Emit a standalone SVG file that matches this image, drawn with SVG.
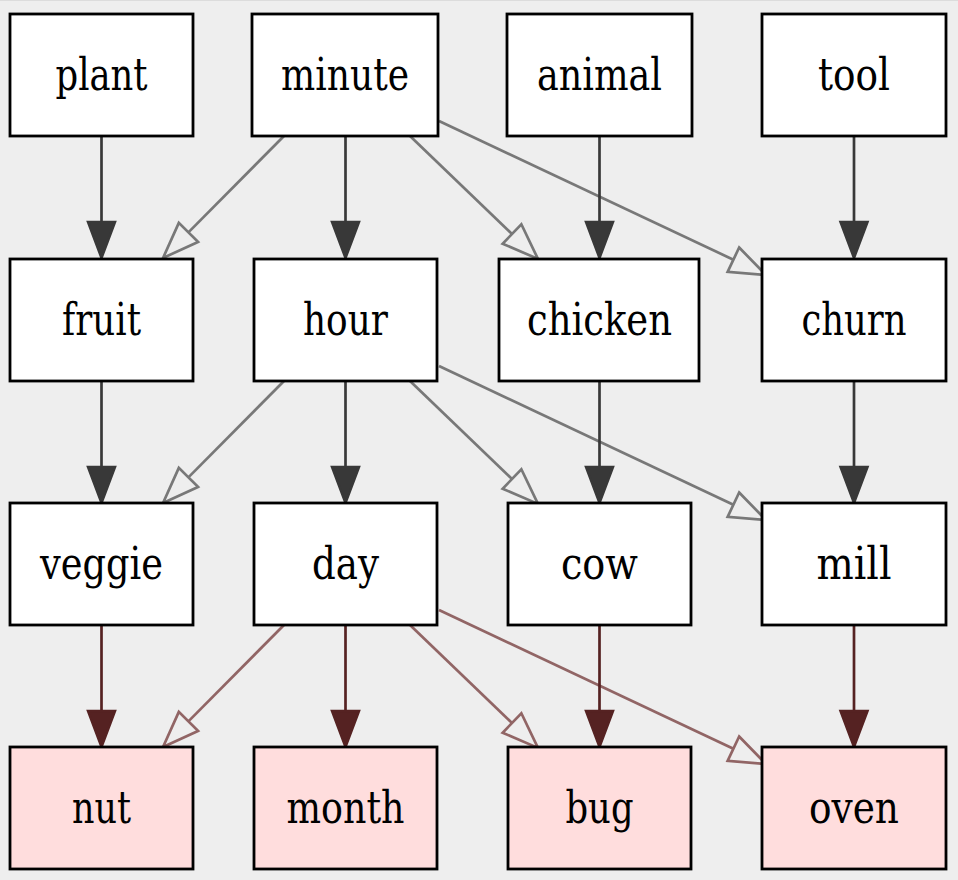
<svg xmlns="http://www.w3.org/2000/svg" width="958" height="880" viewBox="0 0 958 880">
<style>
.box{fill:#ffffff;stroke:#000000;stroke-width:2.8}
.leaf{fill:#ffdddd;stroke:#000000;stroke-width:2.8}
.e{fill:none;stroke-width:2.7}
.d{stroke:#383838}
.g{stroke:#787878}
.r{stroke:#552222}
.p{stroke:#916565}
</style>
<defs>
<marker id="ad" markerUnits="userSpaceOnUse" markerWidth="40" markerHeight="30" refX="0" refY="13.5" orient="auto" overflow="visible"><path d="M0,0 L36,13.5 L0,27 Z" fill="#383838" stroke="#383838" stroke-width="2.5"/></marker>
<marker id="ag" markerUnits="userSpaceOnUse" markerWidth="40" markerHeight="30" refX="0" refY="13.5" orient="auto" overflow="visible"><path d="M0,0 L36,13.5 L0,27 Z" fill="none" stroke="#787878" stroke-width="2.7"/></marker>
<marker id="ar" markerUnits="userSpaceOnUse" markerWidth="40" markerHeight="30" refX="0" refY="13.5" orient="auto" overflow="visible"><path d="M0,0 L36,13.5 L0,27 Z" fill="#552222" stroke="#552222" stroke-width="2.5"/></marker>
<marker id="ap" markerUnits="userSpaceOnUse" markerWidth="40" markerHeight="30" refX="0" refY="13.5" orient="auto" overflow="visible"><path d="M0,0 L36,13.5 L0,27 Z" fill="none" stroke="#916565" stroke-width="2.7"/></marker>
</defs>
<rect x="0" y="0" width="958" height="880" fill="#eeeeee"/>
<line x1="0" y1="0.5" x2="958" y2="0.5" stroke="#dcdcdc" stroke-width="1"/>
<g id="connectors">
<line class="e d" x1="101.5" y1="136" x2="101.5" y2="222" marker-end="url(#ad)"/>
<line class="e g" x1="284" y1="136" x2="188.4" y2="232.4" marker-end="url(#ag)"/>
<line class="e d" x1="345.5" y1="136" x2="345.5" y2="222" marker-end="url(#ad)"/>
<line class="e g" x1="410" y1="136" x2="512" y2="234" marker-end="url(#ag)"/>
<line class="e g" x1="439" y1="121" x2="733.4" y2="259.7" marker-end="url(#ag)"/>
<line class="e d" x1="599.5" y1="136" x2="599.5" y2="222" marker-end="url(#ad)"/>
<line class="e d" x1="854" y1="136" x2="854" y2="222" marker-end="url(#ad)"/>
<line class="e d" x1="101.5" y1="381" x2="101.5" y2="467" marker-end="url(#ad)"/>
<line class="e g" x1="284" y1="381" x2="188.4" y2="477.4" marker-end="url(#ag)"/>
<line class="e d" x1="345.5" y1="381" x2="345.5" y2="467" marker-end="url(#ad)"/>
<line class="e g" x1="410" y1="381" x2="512" y2="479" marker-end="url(#ag)"/>
<line class="e g" x1="439" y1="366" x2="733.4" y2="504.7" marker-end="url(#ag)"/>
<line class="e d" x1="599.5" y1="381" x2="599.5" y2="467" marker-end="url(#ad)"/>
<line class="e d" x1="854" y1="381" x2="854" y2="467" marker-end="url(#ad)"/>
<line class="e r" x1="101.5" y1="625" x2="101.5" y2="711" marker-end="url(#ar)"/>
<line class="e p" x1="284" y1="625" x2="188.4" y2="721.4" marker-end="url(#ap)"/>
<line class="e r" x1="345.5" y1="625" x2="345.5" y2="711" marker-end="url(#ar)"/>
<line class="e p" x1="410" y1="625" x2="512" y2="723" marker-end="url(#ap)"/>
<line class="e p" x1="439" y1="610" x2="733.4" y2="748.7" marker-end="url(#ap)"/>
<line class="e r" x1="599.5" y1="625" x2="599.5" y2="711" marker-end="url(#ar)"/>
<line class="e r" x1="854" y1="625" x2="854" y2="711" marker-end="url(#ar)"/>
</g>
<g font-size="44" text-anchor="middle" fill="#000000" font-family="DejaVu Serif, Liberation Serif, serif">
<g id="plant"><rect class="box" x="10" y="14" width="183" height="122"/><text x="101.5" y="90" textLength="92" lengthAdjust="spacingAndGlyphs">plant</text></g>
<g id="minute"><rect class="box" x="252" y="14" width="186" height="122"/><text x="345" y="90" textLength="128" lengthAdjust="spacingAndGlyphs">minute</text></g>
<g id="animal"><rect class="box" x="507" y="14" width="185" height="122"/><text x="599.5" y="90" textLength="125" lengthAdjust="spacingAndGlyphs">animal</text></g>
<g id="tool"><rect class="box" x="762" y="14" width="184" height="122"/><text x="854" y="90" textLength="72" lengthAdjust="spacingAndGlyphs">tool</text></g>
<g id="fruit"><rect class="box" x="10" y="259" width="183" height="122"/><text x="101.5" y="335" textLength="79" lengthAdjust="spacingAndGlyphs">fruit</text></g>
<g id="hour"><rect class="box" x="254" y="259" width="183" height="122"/><text x="345.5" y="335" textLength="85" lengthAdjust="spacingAndGlyphs">hour</text></g>
<g id="chicken"><rect class="box" x="499" y="259" width="200" height="122"/><text x="599.5" y="335" textLength="145" lengthAdjust="spacingAndGlyphs">chicken</text></g>
<g id="churn"><rect class="box" x="762" y="259" width="184" height="122"/><text x="854" y="335" textLength="105" lengthAdjust="spacingAndGlyphs">churn</text></g>
<g id="veggie"><rect class="box" x="10" y="503" width="183" height="122"/><text x="101.5" y="579" textLength="123" lengthAdjust="spacingAndGlyphs">veggie</text></g>
<g id="day"><rect class="box" x="254" y="503" width="183" height="122"/><text x="345.5" y="579" textLength="67" lengthAdjust="spacingAndGlyphs">day</text></g>
<g id="cow"><rect class="box" x="508" y="503" width="183" height="122"/><text x="599.5" y="579" textLength="77" lengthAdjust="spacingAndGlyphs">cow</text></g>
<g id="mill"><rect class="box" x="762" y="503" width="184" height="122"/><text x="854" y="579" textLength="75" lengthAdjust="spacingAndGlyphs">mill</text></g>
<g id="nut"><rect class="leaf" x="10" y="747" width="183" height="122"/><text x="101.5" y="823" textLength="59" lengthAdjust="spacingAndGlyphs">nut</text></g>
<g id="month"><rect class="leaf" x="254" y="747" width="183" height="122"/><text x="345.5" y="823" textLength="118" lengthAdjust="spacingAndGlyphs">month</text></g>
<g id="bug"><rect class="leaf" x="508" y="747" width="183" height="122"/><text x="599.5" y="823" textLength="68" lengthAdjust="spacingAndGlyphs">bug</text></g>
<g id="oven"><rect class="leaf" x="762" y="747" width="184" height="122"/><text x="854" y="823" textLength="90" lengthAdjust="spacingAndGlyphs">oven</text></g>
</g>
</svg>
